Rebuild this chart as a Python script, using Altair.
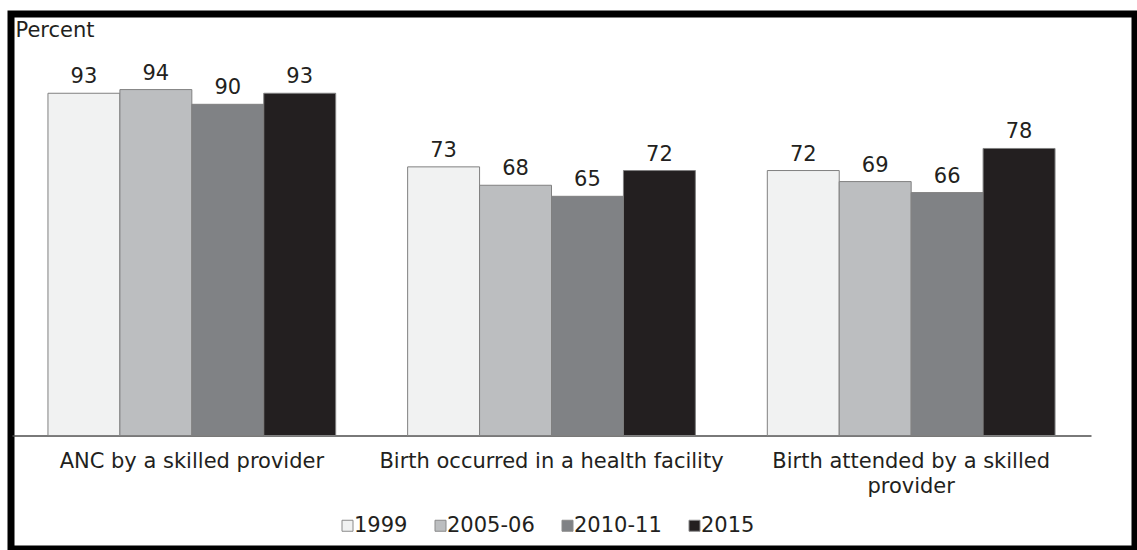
import altair as alt
import pandas as pd

categories = [
    "ANC by a skilled provider",
    "Birth occurred in a health facility",
    "Birth attended by a skilled provider",
]
years = ["1999", "2005-06", "2010-11", "2015"]
v1999 = [93, 73, 72]
v2005 = [94, 68, 69]
v2010 = [90, 65, 66]
v2015 = [93, 72, 78]
colors = ["#f1f2f2", "#bcbec0", "#808285", "#231f20"]

rows = []
for yr, vals in zip(years, [v1999, v2005, v2010, v2015]):
    for c, v in zip(categories, vals):
        rows.append({"category": c, "year": yr, "value": v})
df = pd.DataFrame(rows)

FONT = "DejaVu Sans"
TEXT = "#231f20"

label_expr = (
    "datum.label == 'Birth attended by a skilled provider' ? "
    "['Birth attended by a skilled', 'provider'] : datum.label"
)

x_enc = alt.X(
    "category:N",
    sort=categories,
    scale=alt.Scale(range=[1, 1080], paddingInner=0.2, paddingOuter=0.1),
    axis=alt.Axis(
        title=None,
        orient="bottom",
        offset=-113.5,
        ticks=False,
        tickSize=0,
        labelPadding=15,
        labelAngle=0,
        labelFont=FONT,
        labelFontSize=21,
        labelColor=TEXT,
        labelLimit=0,
        labelLineHeight=25,
        labelExpr=label_expr,
        domainColor="#4d4d4d",
        domainWidth=1.5,
        grid=False,
    ),
)

y_enc = alt.Y(
    "value:Q",
    scale=alt.Scale(domain=[0, 100], range=[421.5, 53.5], nice=False, zero=True),
    axis=alt.Axis(
        title="Percent",
        titleAngle=0,
        titleX=4,
        titleY=22.7,
        titleAlign="left",
        titleBaseline="alphabetic",
        titleFont=FONT,
        titleFontSize=21,
        titleFontWeight="normal",
        titleColor=TEXT,
        labels=False,
        ticks=False,
        domain=False,
        grid=False,
    ),
)

xoff = alt.XOffset("year:N", sort=years, scale=alt.Scale(paddingInner=0, paddingOuter=0))

bars = alt.Chart(df).mark_bar(stroke="#808080", strokeWidth=1).encode(
    x=x_enc,
    xOffset=xoff,
    y=y_enc,
    color=alt.Color(
        "year:N",
        sort=years,
        scale=alt.Scale(domain=years, range=colors),
        legend=alt.Legend(
            title=None,
            orient="none",
            direction="horizontal",
            legendX=326,
            legendY=501,
            padding=0,
            symbolType="square",
            symbolSize=121,
            symbolStrokeColor="#8a8a8a",
            symbolStrokeWidth=1,
            labelFont=FONT,
            labelFontSize=21,
            labelColor=TEXT,
            labelOffset={"expr": "-4"},
            columnPadding=22,
        ),
    ),
)

labels = alt.Chart(df).mark_text(
    dy=-10, baseline="alphabetic", align="center", font=FONT, fontSize=21, color=TEXT
).encode(
    x=x_enc,
    xOffset=xoff,
    y=y_enc,
    text="value:Q",
)

chart = (
    alt.layer(bars, labels)
    .properties(
        width=1124,
        height=535,
        autosize=alt.AutoSizeParams(type="none"),
        padding={"left": 11, "top": 14, "right": 2, "bottom": 1},
        background="white",
    )
    .configure_view(stroke="black", strokeWidth=7)
)

chart.save("out.html", embed_options={"renderer": "svg", "actions": False})
